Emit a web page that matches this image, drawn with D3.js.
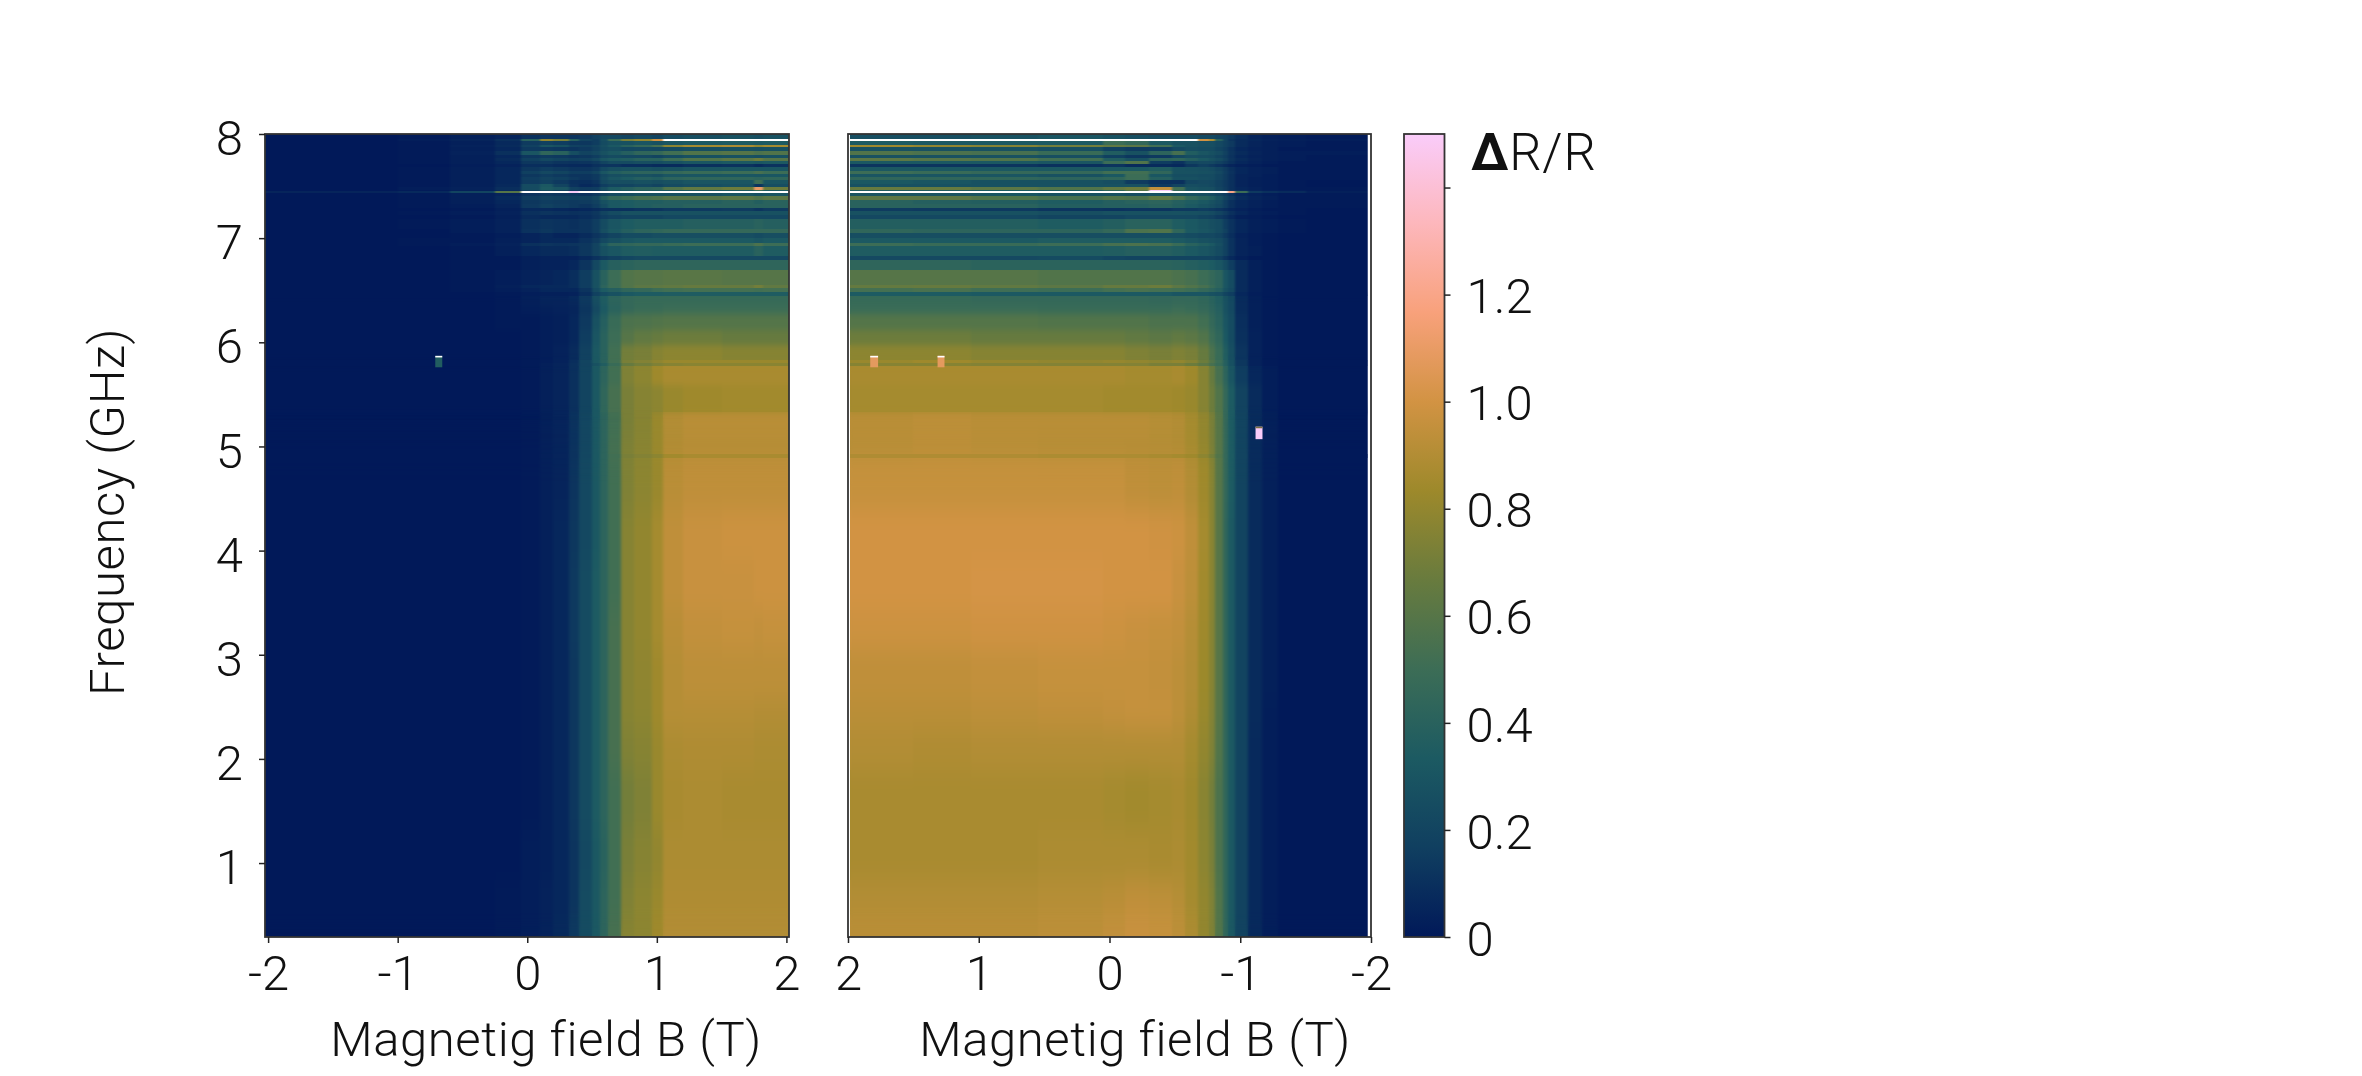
<!DOCTYPE html>
<html><head><meta charset="utf-8">
<script src="https://cdn.jsdelivr.net/npm/d3@7"></script>
<style>html,body{margin:0;padding:0;background:#fff;overflow:hidden}
text{font-family:"Roboto","Inter",sans-serif;font-weight:300;fill:#111}</style>
</head><body><svg id="c" width="2362" height="1076"></svg>
<script>
const colormapStops=["#011959","#103F60","#1C5A62","#3C6D56","#687B3E","#9D892B","#D29343","#F8A17B","#FDB7BC","#FACCFA"];
const colorbarTicks=[0,0.2,0.4,0.6,0.8,1.0,1.2,1.4];
const freqTicks=[1,2,3,4,5,6,7,8];
const fieldTicks=[-2,-1,0,1,2];
const freqEdges=[8.000,7.952,7.933,7.894,7.875,7.837,7.798,7.770,7.741,7.712,7.683,7.645,7.616,7.587,7.559,7.520,7.491,7.467,7.448,7.429,7.405,7.367,7.328,7.290,7.261,7.223,7.184,7.088,7.050,7.002,6.954,6.925,6.829,6.791,6.695,6.551,6.522,6.484,6.445,6.359,6.273,6.119,5.975,5.831,5.802,5.774,5.591,5.332,5.063,4.929,4.891,4.392,3.912,3.432,3.048,2.568,2.280,1.896,1.320,0.841,0.505,0.29];
const fieldEdgesLeft=[-2.024,-1.0,-0.6,-0.25,-0.05,0.1,0.2,0.32,0.4,0.5,0.56,0.62,0.72,0.82,0.96,1.05,1.2,1.5,1.75,1.82,2.02];
const fieldEdgesRight=[1.985,1.5,1.06,0.55,0.05,-0.12,-0.3,-0.48,-0.58,-0.68,-0.76,-0.81,-0.865,-0.91,-0.96,-1.06,-1.17,-1.29,-1.5,-1.975];
// dR/R in hundredths; one line per frequency band, top to bottom
const dRLeft=[
[0,1,3,5,10,12,12,12,14,18,22,22,20,22,20,24,26,28,26,28],
[0,2,5,10,40,80,72,40,20,16,26,50,72,80,100,170,170,170,170,170],
[0,1,3,7,15,18,16,13,13,16,24,28,28,30,28,31,33,34,33,34],
[0,1,4,8,18,30,27,18,17,20,26,32,40,46,54,78,86,88,80,86],
[0,1,3,6,14,14,13,12,14,18,24,26,22,23,22,24,26,27,26,27],
[0,1,4,10,30,44,40,25,19,22,28,32,38,44,46,52,58,60,56,58],
[0,1,3,6,13,15,14,12,13,16,22,24,22,22,20,24,27,28,26,28],
[0,1,3,8,17,22,20,17,18,22,30,34,36,40,40,50,58,62,68,60],
[0,1,3,6,13,14,12,11,12,14,20,24,24,26,25,28,31,33,31,33],
[0,0,2,4,9,9,8,7,7,10,12,12,9,9,8,8,10,11,8,11],
[0,1,3,6,13,16,14,12,12,14,22,26,28,28,26,28,30,31,31,31],
[0,1,3,6,17,22,20,16,16,20,30,36,40,42,42,46,48,50,54,50],
[0,1,3,6,13,16,14,12,12,14,22,26,28,28,26,30,30,31,30,31],
[0,1,3,6,16,19,17,14,12,14,24,30,34,38,36,42,44,44,42,44],
[0,1,3,6,15,18,14,10,9,12,22,26,26,28,26,28,30,30,50,30],
[0,1,3,7,24,32,20,11,7,9,16,20,20,22,20,24,26,28,12,26],
[0,2,4,9,24,34,30,18,15,16,26,34,38,42,44,58,64,68,110,68],
[0,1,3,6,18,26,20,14,11,13,22,30,32,36,34,33,34,35,50,35],
[5,7,20,60,170,170,170,150,170,170,170,170,170,170,170,170,170,170,170,170],
[0,1,3,5,12,14,13,13,11,14,20,24,26,28,28,28,28,30,28,30],
[0,1,3,7,16,19,18,17,18,22,38,46,50,54,56,60,60,62,58,62],
[0,1,3,6,13,16,15,14,15,18,27,32,34,36,36,38,38,40,37,40],
[0,1,2,5,14,18,16,14,12,16,24,32,34,36,38,38,40,40,40,40],
[0,0,1,3,7,7,6,5,6,8,10,10,10,12,12,14,14,15,12,15],
[0,1,2,4,10,12,11,10,11,13,20,24,28,28,28,28,28,28,28,28],
[0,0,1,3,8,7,7,7,9,12,16,18,20,20,20,22,22,22,22,22],
[0,1,2,4,10,12,11,10,12,16,24,30,34,36,36,36,38,38,40,38],
[0,0,2,4,11,13,11,11,12,16,26,32,38,42,44,46,46,46,46,46],
[0,0,1,2,5,7,5,5,8,12,16,20,24,24,26,26,26,26,24,26],
[0,1,1,3,5,7,7,7,11,15,22,27,31,33,33,33,33,33,30,33],
[0,1,2,4,10,12,11,12,13,19,32,42,44,46,46,48,50,50,56,50],
[0,0,1,3,6,8,8,9,13,19,27,31,35,36,35,35,35,35,40,35],
[0,0,1,1,3,4,4,4,7,11,15,18,21,23,23,23,23,23,23,23],
[0,0,1,1,3,4,4,6,12,22,33,39,41,43,43,43,43,43,43,43],
[0,0,1,2,4,5,6,9,16,28,40,50,58,60,60,61,61,60,60,60],
[0,0,1,3,6,7,7,9,16,28,42,50,58,62,63,64,66,66,70,64],
[0,0,1,2,4,6,6,6,12,24,34,38,44,46,50,52,53,53,52,53],
[0,0,0,1,2,3,3,4,9,18,24,28,32,34,34,35,35,35,35,35],
[0,0,0,1,3,5,5,7,14,26,35,42,46,47,47,47,47,47,47,47],
[0,0,0,1,2,3,4,5,12,22,32,40,46,48,48,50,50,50,50,50],
[0,0,0,1,1,2,3,6,14,28,38,48,56,57,58,59,59,59,59,59],
[0,0,0,0,1,2,3,6,16,30,40,50,60,64,66,68,68,66,66,66],
[0,0,0,0,1,2,4,8,18,32,40,52,70,72,76,78,78,76,76,76],
[0,0,0,0,1,2,4,9,20,32,40,52,72,75,79,82,82,82,82,82],
[0,0,0,0,1,3,5,10,19,28,36,48,66,70,74,76,77,77,77,77],
[0,0,0,0,1,3,5,10,20,32,42,52,74,78,84,87,87,87,87,87],
[0,0,0,0,1,3,5,10,20,32,44,54,72,76,78,82,84,85,85,85],
[0,0,0,0,1,3,5,11,21,32,42,52,72,76,82,90,92,92,92,92],
[0,0,0,0,1,3,5,11,21,32,42,54,74,77,82,89,90,90,90,90],
[0,0,0,0,1,3,5,11,21,32,42,52,72,75,78,85,87,87,87,87],
[0,0,0,0,1,3,5,12,22,32,42,52,74,78,82,92,94,94,94,94],
[0,0,0,0,1,3,6,13,22,32,42,52,76,80,86,94,97,98,98,98],
[0,0,0,0,1,3,6,14,24,34,42,52,76,80,86,94,97,97,98,98],
[0,0,0,0,1,3,6,14,24,34,42,54,76,80,86,92,95,96,95,96],
[0,0,0,0,1,3,6,13,24,34,42,54,76,79,84,91,93,93,93,93],
[0,0,0,0,1,3,6,13,24,34,42,54,76,78,84,91,91,91,90,90],
[0,0,0,0,1,3,6,13,24,34,42,54,74,76,82,88,89,89,88,88],
[0,0,0,0,1,3,6,13,24,34,42,52,70,74,82,87,88,87,87,87],
[0,0,0,0,2,3,6,12,22,32,40,52,72,76,80,88,88,88,88,88],
[0,0,0,1,2,4,6,12,24,32,42,52,74,78,82,89,89,89,89,89],
[0,0,0,1,2,4,7,14,24,32,42,54,76,78,84,90,90,90,90,90]
];
const dRRight=[
[26,26,28,30,28,26,24,24,24,22,22,20,18,14,9,5,3,2,1],
[170,170,170,170,170,170,170,170,170,100,88,40,20,12,8,6,4,3,2],
[34,33,33,33,50,46,33,28,28,26,26,22,18,14,8,5,3,2,1],
[84,80,76,70,64,62,52,32,28,26,26,22,18,14,8,5,3,2,1],
[28,28,28,26,18,15,16,22,25,24,24,20,16,11,6,4,3,1,1],
[58,56,54,48,36,28,42,54,36,30,27,24,18,12,8,5,3,2,2],
[28,28,28,26,17,13,14,22,26,25,24,20,16,11,6,4,3,2,1],
[62,60,58,52,36,28,42,44,38,32,28,24,18,12,8,5,3,2,1],
[32,32,32,30,50,58,16,11,21,23,22,18,14,10,6,4,2,1,1],
[12,12,12,10,12,8,8,7,13,17,14,11,8,5,3,2,1,1,1],
[32,32,32,32,32,33,36,28,27,26,24,20,15,10,6,4,3,1,1],
[50,48,46,46,52,52,44,28,28,27,26,22,16,11,6,4,3,1,1],
[30,30,30,28,32,50,31,25,25,24,24,20,15,10,5,4,2,1,1],
[44,44,44,42,44,50,38,27,27,25,24,20,15,10,5,3,2,1,1],
[32,30,28,28,26,15,10,10,21,23,22,18,14,10,5,3,2,1,0],
[28,28,28,28,28,28,14,20,25,24,22,18,14,10,5,3,2,1,0],
[66,66,62,58,64,68,95,52,29,27,26,20,15,10,6,4,2,1,1],
[36,36,34,34,44,60,150,46,30,28,27,22,16,11,8,5,3,2,1],
[170,170,170,170,170,170,170,170,170,170,170,170,170,120,50,14,10,8,3],
[30,30,30,28,28,25,28,28,27,26,24,20,16,11,6,4,2,1,1],
[62,62,58,54,58,56,64,56,46,40,36,28,20,14,8,5,3,1,1],
[40,38,37,35,38,40,42,38,35,32,28,24,16,10,6,4,2,1,1],
[40,40,40,37,38,38,40,37,33,29,26,22,16,10,6,4,2,1,1],
[15,14,14,12,11,12,12,14,14,16,14,12,9,6,4,2,1,1,0],
[28,28,28,26,28,28,28,28,27,26,24,20,15,10,6,3,2,1,0],
[22,22,22,20,20,22,22,22,22,20,18,14,11,7,3,2,1,0,0],
[37,37,37,35,37,40,40,35,32,29,26,24,16,11,6,3,2,1,0],
[44,42,42,42,46,56,58,44,33,30,28,24,18,11,6,3,2,1,0],
[26,26,26,26,26,26,26,26,24,22,22,20,14,9,4,2,1,0,0],
[33,33,33,35,35,35,35,33,30,28,26,24,18,11,5,2,1,0,0],
[50,48,48,50,54,56,54,48,40,36,32,26,18,11,5,2,1,0,0],
[35,35,35,35,36,38,38,36,33,30,28,24,18,11,5,3,1,0,0],
[23,23,23,24,21,20,20,20,20,20,20,17,12,7,3,1,1,0,0],
[43,43,41,41,41,41,41,40,38,36,34,30,24,16,8,3,1,0,0],
[60,60,60,58,58,58,58,56,54,50,46,42,30,24,8,3,1,0,0],
[65,66,64,62,66,66,68,62,58,54,48,42,30,24,8,3,1,0,0],
[53,55,51,50,53,55,53,52,50,46,42,38,28,22,8,3,1,0,0],
[34,34,33,33,33,33,33,30,30,30,28,26,20,16,6,2,1,0,0],
[47,47,46,46,46,46,45,46,46,44,40,36,28,22,8,3,1,0,0],
[49,49,49,48,48,48,48,50,48,46,42,38,28,22,8,3,1,0,0],
[59,59,59,58,58,58,56,56,56,52,46,40,30,24,9,3,1,0,0],
[68,68,66,66,66,64,62,64,62,58,50,44,32,24,10,4,1,0,0],
[78,78,76,76,76,74,72,74,72,66,56,48,36,26,12,4,1,0,0],
[82,84,81,80,81,80,78,80,76,68,58,50,38,27,13,4,1,0,0],
[76,76,75,75,75,75,72,72,68,62,54,48,38,27,13,4,1,0,0],
[87,87,87,87,87,86,86,87,84,76,66,54,42,30,16,6,2,0,0],
[86,86,86,86,85,85,85,84,82,76,68,58,46,34,19,8,2,0,0],
[92,93,92,92,92,92,91,90,86,80,72,60,46,34,20,8,3,0,0],
[91,92,91,90,90,90,90,89,86,80,72,60,46,34,20,8,3,0,0],
[89,89,89,88,88,88,87,86,84,78,70,58,46,34,20,8,3,0,0],
[96,96,96,96,96,94,93,94,90,84,76,60,46,34,20,8,3,0,0],
[100,100,100,100,100,100,99,98,94,86,77,60,44,33,20,8,3,0,0],
[100,100,101,101,100,100,100,97,93,85,77,60,44,33,20,8,3,0,0],
[98,98,99,99,98,97,96,95,91,84,76,60,44,33,20,8,3,0,0],
[94,94,95,96,96,96,95,93,90,83,76,60,44,33,20,8,3,0,0],
[92,92,93,94,95,96,96,93,89,82,75,60,44,33,20,8,2,0,0],
[90,89,90,90,90,90,90,90,86,80,74,58,44,33,20,7,2,0,0],
[87,87,87,87,86,85,86,87,84,77,70,56,44,32,19,7,2,0,0],
[87,87,87,88,88,88,87,88,85,78,72,56,44,32,19,7,2,0,0],
[90,90,90,91,92,94,93,91,86,80,74,58,44,32,19,7,2,0,0],
[92,92,92,93,95,97,96,93,88,80,74,58,44,32,19,7,2,0,0]
];
// isolated outlier pixels: panel, field from/to, freq from/to, value in hundredths
const outlierPanel=["L","R","R","R"];
const outlierB0=[-0.71,1.83,1.315,-1.117];
const outlierB1=[-0.656,1.77,1.262,-1.17];
const outlierF0=[5.87,5.87,5.87,5.19];
const outlierF1=[5.76,5.76,5.76,5.07];
const outlierV=[36,108,108,150];

const svg=d3.select("#c");
const top_=134,bottom=937;
const color=d3.scaleLinear().domain([...colormapStops.map((_,i)=>i/9*1.5),1.7]).range([...colormapStops,"#ffffff"]).clamp(true);
const y=d3.scaleLinear().domain([0.29,8]).range([bottom,top_]);
const xL=d3.scaleLinear().domain([-2.024,2.02]).range([265,789]);
const xR=d3.scaleLinear().domain([2,-2]).range([848,1371]);
const FS=49;
const defs=svg.append("defs");
const blurs=[[1.0,0.3],[1.2,3],[1.4,12]];
blurs.forEach((b,i)=>{
  const f=defs.append("filter").attr("id","blur"+i).attr("filterUnits","userSpaceOnUse")
    .attr("x",200).attr("y",100).attr("width",1300).attr("height",900).attr("color-interpolation-filters","sRGB");
  f.append("feGaussianBlur").attr("in","SourceGraphic").attr("stdDeviation",b.join(" ")).attr("result","b");
  const m=f.append("feMerge");
  m.append("feMergeNode").attr("in","SourceGraphic");
  m.append("feMergeNode").attr("in","b");
});
function tier(r){
  const h=y(freqEdges[r+1])-y(freqEdges[r]);
  const f=freqEdges[r];
  if(h<5||f>6.445) return 0;
  return f>5.34?1:2;
}
function heat(x,edges,matrix,panel){
  const x0=x(edges[0]),x1=x(edges[edges.length-1]);
  const cid="clip"+panel;
  defs.append("clipPath").attr("id",cid).append("rect").attr("x",x0).attr("y",top_).attr("width",x1-x0).attr("height",bottom-top_);
  const outer=svg.append("g").attr("clip-path",`url(#${cid})`);
  [2,1,0].forEach(t=>{
    const g=outer.append("g").attr("filter",`url(#blur${t})`);
    const cells=matrix.flatMap((row,r)=>tier(r)===t?row.map((v,c)=>({r,c,v})):[]);
    g.selectAll("rect").data(cells).join("rect")
     .attr("shape-rendering","crispEdges")
     .attr("x",d=>x(edges[d.c])).attr("width",d=>x(edges[d.c+1])-x(edges[d.c]))
     .attr("y",d=>y(freqEdges[d.r])).attr("height",d=>y(freqEdges[d.r+1])-y(freqEdges[d.r]))
     .attr("fill",d=>color(d.v/100));
  });
  const g=svg.append("g");
  const idx=outlierPanel.map((p,i)=>p===panel?i:-1).filter(i=>i>=0);
  g.selectAll("rect.out").data(idx).join("rect").attr("class","out")
   .attr("x",i=>Math.min(x(outlierB0[i]),x(outlierB1[i]))).attr("width",i=>Math.abs(x(outlierB1[i])-x(outlierB0[i])))
   .attr("y",i=>y(outlierF0[i])).attr("height",i=>y(outlierF1[i])-y(outlierF0[i]))
   .attr("fill",i=>color(outlierV[i]/100));
  g.selectAll("rect.outtop").data(idx).join("rect").attr("class","outtop")
   .attr("x",i=>Math.min(x(outlierB0[i]),x(outlierB1[i]))).attr("width",i=>Math.abs(x(outlierB1[i])-x(outlierB0[i])))
   .attr("y",i=>y(outlierF0[i])).attr("height",1.6)
   .attr("fill",i=>panel==="R"&&outlierV[i]>=150?"#7a7040":"#fff");
  frame(x.range()[0],x.range()[1]);
}
function frame(a,b){
  svg.append("rect").attr("x",a).attr("y",top_).attr("width",b-a).attr("height",bottom-top_)
    .attr("fill","none").attr("stroke","#333").attr("stroke-width",1.8);
}
function styleAxis(g){
  g.select(".domain").remove();
  g.selectAll(".tick line").attr("stroke","#222").attr("stroke-width",1.5);
  g.selectAll(".tick text").attr("font-size",FS);
}
heat(xL,fieldEdgesLeft,dRLeft,"L");
heat(xR,fieldEdgesRight,dRRight,"R");

svg.append("g").attr("transform",`translate(0,${bottom})`)
  .call(d3.axisBottom(xL).tickValues(fieldTicks).tickFormat(d=>String(d)).tickSize(6).tickPadding(12)).call(styleAxis);
svg.append("g").attr("transform",`translate(0,${bottom})`)
  .call(d3.axisBottom(xR).tickValues(fieldTicks).tickFormat(d=>String(d)).tickSize(6).tickPadding(12)).call(styleAxis);
svg.append("g").attr("transform",`translate(265,0)`)
  .call(d3.axisLeft(y).tickValues(freqTicks).tickFormat(d=>String(d)).tickSize(6).tickPadding(16)).call(styleAxis)
  .selectAll(".tick text").attr("dy","0.42em");

svg.append("text").attr("x",546).attr("y",1056).attr("text-anchor","middle").attr("font-size",FS).attr("letter-spacing",0.6).text("Magnetig field B (T)");
svg.append("text").attr("x",1135).attr("y",1056).attr("text-anchor","middle").attr("font-size",FS).attr("letter-spacing",0.6).text("Magnetig field B (T)");
svg.append("text").attr("transform","translate(124,512) rotate(-90)").attr("text-anchor","middle").attr("font-size",FS).attr("letter-spacing",0.6).text("Frequency (GHz)");

// colourbar
const cb=d3.scaleLinear().domain([0,1.5]).range([bottom,top_]);
const grad=defs.append("linearGradient").attr("id","cbg").attr("x1",0).attr("x2",0).attr("y1",1).attr("y2",0);
grad.selectAll("stop").data(colormapStops).join("stop").attr("offset",(d,i)=>i/9).attr("stop-color",d=>d);
svg.append("rect").attr("x",1404).attr("y",top_).attr("width",40.5).attr("height",bottom-top_).attr("fill","url(#cbg)");
frame(1404,1444.5);
const cbAxis=svg.append("g").attr("transform","translate(1444.5,0)")
  .call(d3.axisRight(cb).tickValues(colorbarTicks).tickFormat(d=>d===0?"0":d>1.3?"":d3.format(".1f")(d)).tickSize(6).tickPadding(16)).call(styleAxis);
cbAxis.selectAll(".tick text").attr("dy","0.37em");
const t=svg.append("text").attr("x",1471).attr("y",170).attr("font-size",51).attr("letter-spacing",0.8);
t.append("tspan").style("font-weight",700).text("Δ");
t.append("tspan").text("R/R");
</script></body></html>
